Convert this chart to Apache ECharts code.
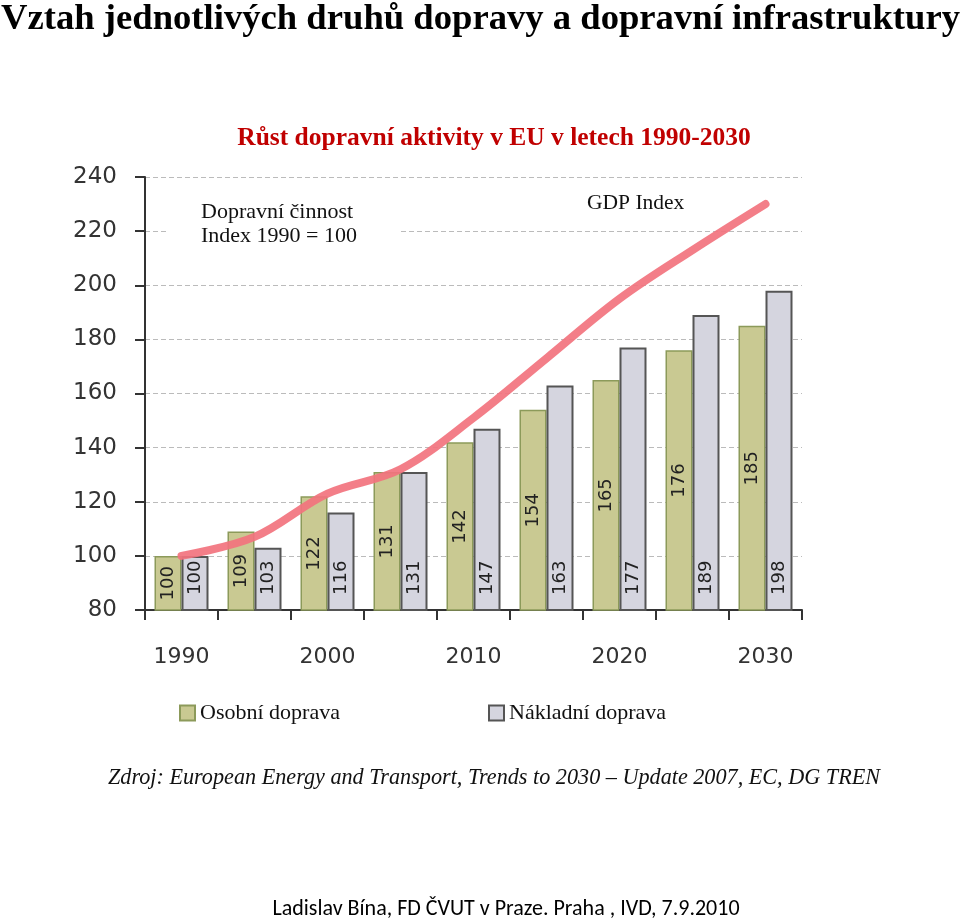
<!DOCTYPE html>
<html>
<head>
<meta charset="utf-8">
<script src="https://cdn.jsdelivr.net/npm/echarts@6/dist/echarts.min.js"></script>
<style>
html,body{margin:0;padding:0;background:#fff;}
#chart{width:960px;height:921px;}
</style>
</head>
<body>
<div id="chart"></div>
<script>
// ---- data ----
const categories = ['1990','1995','2000','2005','2010','2015','2020','2025','2030'];
const osobniDoprava = [100,109,122,131,142,154,165,176,185];
const nakladniDoprava = [100,103,116,131,147,163,177,189,198];
const gdpIndex = [100,107,123,132,151,173,195,213,230];
const yMin = 80, yMax = 240, yStep = 20;

const serif = '"Liberation Serif", "Times New Roman", serif';
const sans = '"DejaVu Sans", Verdana, sans-serif';

const chart = echarts.init(document.getElementById('chart'));
chart.setOption({
  backgroundColor: '#fff',
  animation: false,
  grid: {left: 145, right: 158, top: 177, bottom: 311, containLabel: false},
  xAxis: {
    type: 'category',
    data: categories,
    axisLine: {lineStyle: {color: '#333', width: 2}},
    axisTick: {show: true, interval: 0, length: 10, lineStyle: {color: '#333', width: 2}},
    axisLabel: {interval: 1, margin: 36, fontFamily: sans, fontSize: 22, color: '#333'},
    splitLine: {show: false}
  },
  yAxis: {
    type: 'value',
    min: yMin, max: yMax, interval: yStep,
    axisLine: {show: true, lineStyle: {color: '#333', width: 2}},
    axisTick: {show: true, length: 10, lineStyle: {color: '#333', width: 2}},
    axisLabel: {margin: 28, fontFamily: sans, fontSize: 23, color: '#333'},
    splitLine: {show: true, lineStyle: {color: '#bbb', type: [5, 3], width: 1}}
  },
  legend: [
    {data: ['Osobní doprava'], left: 174, top: 697, icon: 'rect', itemWidth: 15, itemHeight: 15, itemGap: 6,
     textStyle: {fontFamily: serif, fontSize: 22, color: '#111'}},
    {data: ['Nákladní doprava'], left: 483, top: 697, icon: 'rect', itemWidth: 15, itemHeight: 15, itemGap: 6,
     textStyle: {fontFamily: serif, fontSize: 22, color: '#111'}}
  ],
  series: [
    {
      name: 'Osobní doprava', type: 'bar', data: osobniDoprava,
      barWidth: 27, barGap: '0%',
      itemStyle: {color: '#c9c992', borderColor: '#8c9a5a', borderWidth: 1.5},
      label: {show: true, position: 'inside', rotate: 90, align: 'center', verticalAlign: 'middle',
              fontFamily: sans, fontSize: 18, color: '#222'}
    },
    {
      name: 'Nákladní doprava', type: 'bar', data: nakladniDoprava,
      barWidth: 27, barGap: '0%',
      itemStyle: {color: '#d5d5df', borderColor: '#555', borderWidth: 2},
      label: {show: true, position: 'insideBottom', distance: 16, rotate: 90, align: 'left', verticalAlign: 'middle',
              fontFamily: sans, fontSize: 18, color: '#222'}
    },
    {
      name: 'GDP Index', type: 'line', data: gdpIndex, smooth: 0.35,
      showSymbol: false, symbol: 'none',
      lineStyle: {color: '#f2737e', width: 8, cap: 'round', opacity: 0.92},
      z: 5
    }
  ],
  graphic: [
    {type: 'text', x: 1, y: 2, scaleX: 1.047, style: {text: 'Vztah jednotlivých druhů dopravy a dopravní infrastruktury',
      font: 'bold 35px ' + serif, fill: '#000'}},
    {type: 'text', x: 494, y: 138, style: {text: 'Růst dopravní aktivity v EU v letech 1990-2030',
      font: 'bold 25.5px ' + serif, fill: '#c00000', textAlign: 'center', textVerticalAlign: 'middle'}},
    {type: 'rect', z: 50, shape: {x: 168, y: 198, width: 230, height: 52}, style: {fill: '#fff'}},
    {type: 'text', z: 51, x: 201, y: 212, style: {text: 'Dopravní činnost', font: '22px ' + serif, fill: '#111', textVerticalAlign: 'middle'}},
    {type: 'text', z: 51, x: 201, y: 236, style: {text: 'Index 1990 = 100', font: '22px ' + serif, fill: '#111', textVerticalAlign: 'middle'}},
    {type: 'text', z: 51, x: 587, y: 203, style: {text: 'GDP Index', font: '21.5px ' + serif, fill: '#111', textVerticalAlign: 'middle'}},
    {type: 'text', x: 494, y: 778, style: {text: 'Zdroj: European Energy and Transport, Trends to 2030 – Update 2007, EC, DG TREN',
      font: 'italic 22.2px ' + serif, fill: '#111', textAlign: 'center', textVerticalAlign: 'middle'}},
    {type: 'text', x: 506, y: 909, style: {text: 'Ladislav Bína, FD ČVUT v Praze. Praha , IVD, 7.9.2010',
      font: '22px Carlito, Lato, sans-serif', fill: '#000', textAlign: 'center', textVerticalAlign: 'middle'}}
  ]
});
</script>
</body>
</html>
